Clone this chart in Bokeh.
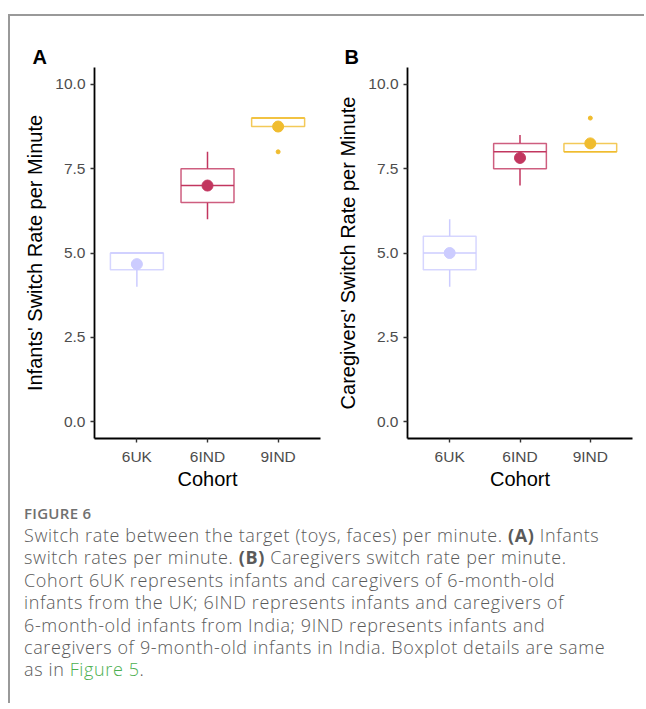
from bokeh.plotting import figure
from bokeh.models import Range1d, FactorRange, Div, ColumnDataSource, Title
from bokeh.transform import dodge
from bokeh.layouts import row, column
from bokeh.embed import file_html
from bokeh.resources import INLINE

# ---------------- data ----------------
cohorts = ["6UK", "6IND", "9IND"]
colors = ["#CCCCFF", "#C2365F", "#F0BC2E"]

# Panel A: infants
a_lower = [4.0, 6.0, 8.75]
a_q1 = [4.5, 6.5, 8.75]
a_median = [5.0, 7.0, 9.0]
a_q3 = [5.0, 7.5, 9.0]
a_upper = [5.0, 8.0, 9.0]
a_mean = [4.67, 7.0, 8.75]
a_out_cohort = ["9IND"]
a_out_value = [8.0]

# Panel B: caregivers
b_lower = [4.0, 7.0, 8.0]
b_q1 = [4.5, 7.5, 8.0]
b_median = [5.0, 8.0, 8.0]
b_q3 = [5.5, 8.25, 8.25]
b_upper = [6.0, 8.5, 8.25]
b_mean = [5.0, 7.82, 8.25]
b_out_cohort = ["9IND"]
b_out_value = [9.0]

y_ticks = [0.0, 2.5, 5.0, 7.5, 10.0]

B = "<b style='font-weight:700'>"
caption_head = "FIGURE 6"
caption_lines = [
    "Switch rate between the target (toys, faces) per minute. " + B + "(A)</b> Infants",
    "switch rates per minute. " + B + "(B)</b> Caregivers switch rate per minute.",
    "Cohort 6UK represents infants and caregivers of 6-month-old",
    "infants from the UK; 6IND represents infants and caregivers of",
    "6-month-old infants from India; 9IND represents infants and",
    "caregivers of 9-month-old infants in India. Boxplot details are same",
    "as in <span style='color:#4caf50'>Figure 5</span>.",
]

FONT = "Liberation Sans"


def make_panel(letter, ylabel, lower, q1, med, q3, upper, mean, oc, ov,
               width, bl, br):
    p = figure(width=width, height=478, output_backend="svg",
               toolbar_location=None,
               x_range=FactorRange(factors=cohorts, range_padding=0.1,
                                   range_padding_units="absolute"),
               y_range=Range1d(-0.5, 10.5),
               min_border_left=bl, min_border_right=br,
               min_border_top=51, min_border_bottom=56)
    p.outline_line_color = None
    p.xgrid.grid_line_color = None
    p.ygrid.grid_line_color = None
    p.background_fill_color = "white"
    p.border_fill_color = "white"

    src = ColumnDataSource(dict(x=cohorts, lower=lower, q1=q1, med=med,
                                q3=q3, upper=upper, mean=mean, c=colors))
    # whiskers
    p.segment(x0="x", x1="x", y0="q3", y1="upper", line_color="c",
              line_width=1.5, source=src)
    p.segment(x0="x", x1="x", y0="lower", y1="q1", line_color="c",
              line_width=1.5, source=src)
    # boxes
    p.vbar(x="x", top="q3", bottom="q1", width=0.75, fill_color="white",
           line_color="c", line_alpha=0.8, line_width=1.5, source=src)
    # medians
    p.segment(x0=dodge("x", -0.375, range=p.x_range),
              x1=dodge("x", 0.375, range=p.x_range),
              y0="med", y1="med", line_color="c", line_width=1.5, source=src)
    # means
    p.scatter(x="x", y="mean", size=11, fill_color="c", line_color="c",
              source=src)
    # outliers
    oc_col = [colors[cohorts.index(c)] for c in oc]
    p.scatter(x=oc, y=ov, size=4, fill_color=oc_col, line_color=oc_col)

    for ax in (p.xaxis[0], p.yaxis[0]):
        ax.axis_line_color = "black"
        ax.axis_line_width = 1.8
        ax.major_tick_line_color = "#333333"
        ax.major_tick_line_width = 1.4
        ax.major_tick_in = 0
        ax.major_tick_out = 4
        ax.minor_tick_line_color = None
        ax.major_label_text_font = FONT
        ax.major_label_text_font_size = "15.5px"
        ax.major_label_text_color = "#4D4D4D"
        ax.axis_label_text_font = FONT
        ax.axis_label_text_font_size = "20px"
        ax.axis_label_text_font_style = "normal"
        ax.axis_label_text_color = "black"
    p.yaxis.ticker = y_ticks
    p.yaxis.major_label_overrides = {v: f"{v:.1f}" for v in y_ticks}
    p.yaxis.major_label_standoff = 5
    p.yaxis.axis_label_standoff = 6
    p.xaxis.major_label_standoff = 5
    p.xaxis.axis_label_standoff = 0
    p.xaxis.axis_label = "Cohort"
    p.yaxis.axis_label = ylabel

    t = Title(text=letter, text_font=FONT, text_font_style="bold",
              text_font_size="20px", text_color="black", align="left",
              offset=-(bl - 22), standoff=0, vertical_align="bottom")
    p.add_layout(t, "above")
    return p


pA = make_panel("A", "Infants' Switch Rate per Minute",
                a_lower, a_q1, a_median, a_q3, a_upper, a_mean,
                a_out_cohort, a_out_value, 312, 84, 2)
pB = make_panel("B", "Caregivers' Switch Rate per Minute",
                b_lower, b_q1, b_median, b_q3, b_upper, b_mean,
                b_out_cohort, b_out_value, 322, 85, 12)

html = (
    "<div style=\"font-family:'Open Sans';color:#707070;font-size:15px;"
    "letter-spacing:0.3px;font-weight:600;line-height:18px;"
    "padding-top:10px;\">" + caption_head + "</div>"
    "<div style=\"font-family:'Open Sans';color:#5a5a5a;font-size:18px;"
    "letter-spacing:0.62px;font-weight:300;line-height:22.4px;margin-top:2px;"
    "white-space:nowrap;\">"
    + "<br>".join(caption_lines) + "</div>"
)
cap = Div(text=html, width=615, height=209, margin=(0, 0, 0, 14))

root = column(row(pA, pB), cap, margin=(14, 0, 0, 8),
              styles={"border-top": "2px solid #999999",
                      "border-left": "2px solid #999999"})

open("out.html", "w").write(file_html(root, INLINE))
